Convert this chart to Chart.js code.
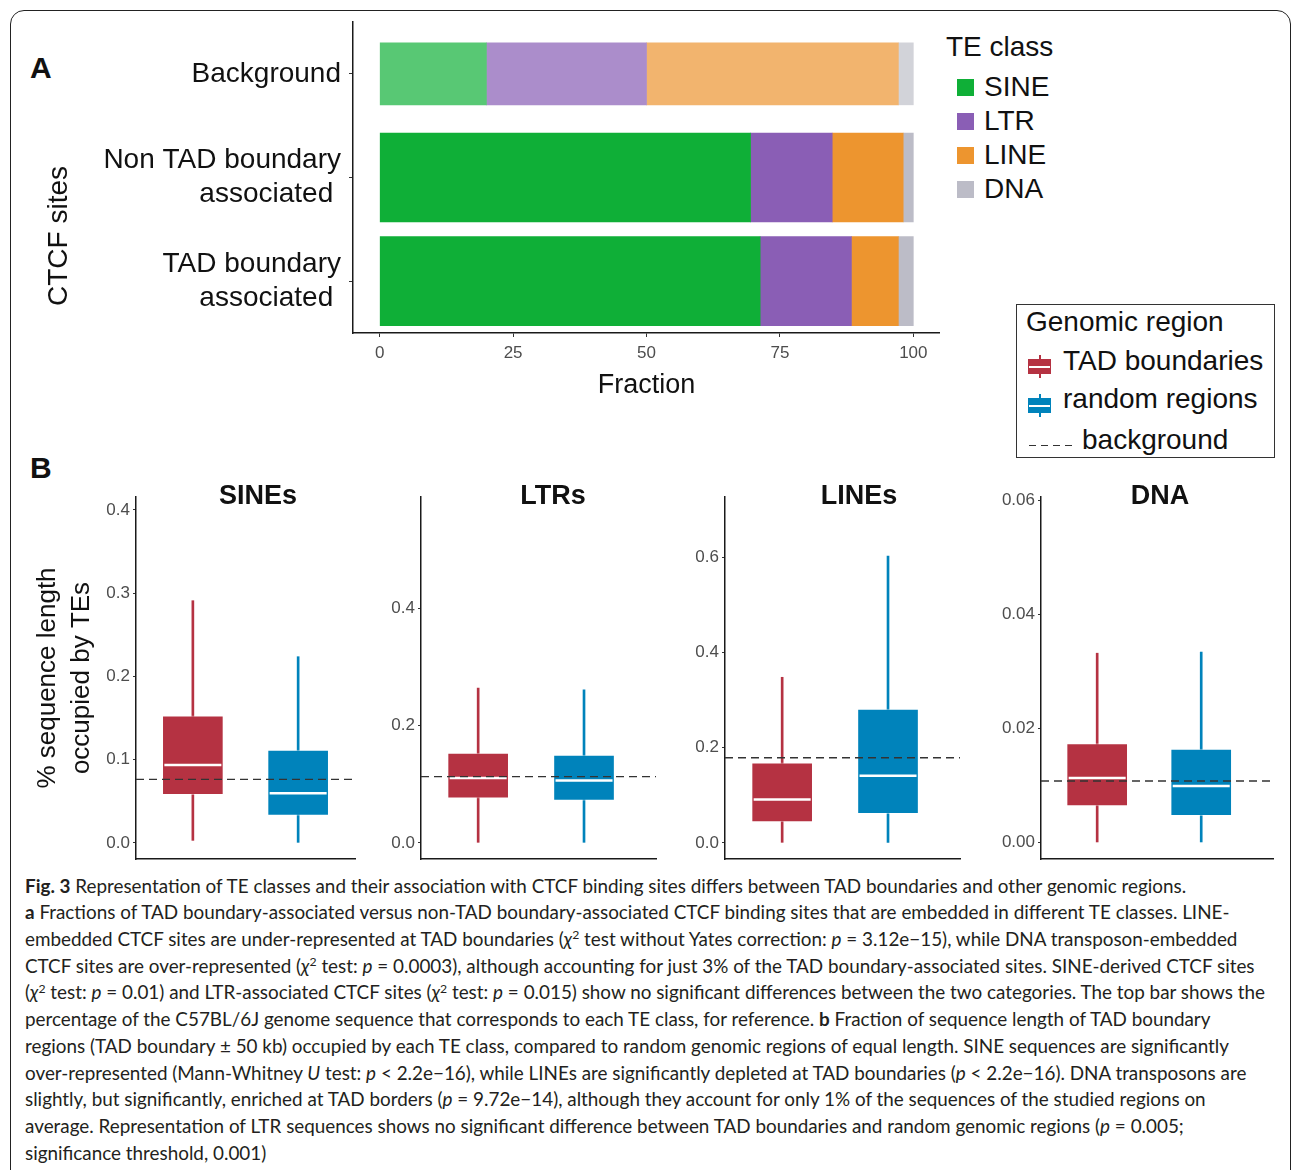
<!DOCTYPE html>
<html>
<head>
<meta charset="utf-8">
<script src="https://cdn.jsdelivr.net/npm/chart.js"></script>
<style>
  body { margin: 0; width: 1292px; height: 1170px; overflow: hidden; position: relative; background: #fff;
         font-family: "Liberation Sans", Arial, Helvetica, sans-serif; color: #111; }
  .abs { position: absolute; }
  #frame { left: 10px; top: 10px; width: 1281px; height: 1250px; border: 1.5px solid #222; border-radius: 14px; box-sizing: border-box; }
  .letter { font-weight: bold; font-size: 30px; line-height: 30px; color: #111; }
  .facetTitle { font-weight: bold; font-size: 27px; line-height: 27px; transform: translate(-50%, -50%); white-space: nowrap; }
  #ctcfTitle { left: 58px; top: 236px; font-size: 28px; line-height: 28px; white-space: nowrap; transform: translate(-50%, -50%) rotate(-90deg); }
  .teTitle { font-size: 28px; line-height: 28px; white-space: nowrap; }
  .teSwatch { width: 17px; height: 17px; }
  #regionLegend { left: 1016px; top: 304px; width: 259px; height: 154px; border: 1px solid #333; box-sizing: border-box; background: #fff; }
  #regionLegend .txt { position: absolute; font-size: 28px; line-height: 28px; white-space: nowrap; }
  .ico { position: absolute; width: 23px; height: 23px; }
  .ico .wh { position: absolute; left: 10.5px; width: 2px; top: 0; bottom: 0; }
  .ico .bx { position: absolute; left: 0; right: 0; top: 4px; height: 15px; }
  .ico .md { position: absolute; left: 1px; right: 1px; top: 10.5px; height: 2px; background: #fff; }
  .dash { position: absolute; height: 1.3px; background: repeating-linear-gradient(90deg, #333 0 7px, transparent 7px 12px); }
  #caption { left: 25px; top: 872.6px; font-family: Lato, "Open Sans", sans-serif; font-size: 18.5px; line-height: 26.7px;
             color: #231f20; transform-origin: 0 0; }
  #caption .ln { white-space: nowrap; }
  #caption .ln span { display: inline-block; }
  .sup { font-size: 0.65em; vertical-align: 0.55em; line-height: 0; }
</style>
</head>
<body>
<div id="frame" class="abs"></div>
<div class="abs letter" style="left:30px;top:53px">A</div>
<div class="abs letter" style="left:30px;top:453px">B</div>

<canvas id="chartA" class="abs" width="940" height="420" style="left:0;top:0"></canvas>
<div id="ctcfTitle" class="abs">CTCF sites</div>
<div class="abs teTitle" style="left:946px;top:33px">TE class</div>
<div id="teLegend"></div>

<div id="regionLegend" class="abs">
  <div class="txt" style="left:9px;top:3px">Genomic region</div>
  <div class="dash" style="left:12px;top:140px;width:46px"></div>
  <div class="txt" style="left:65px;top:121.3px">background</div>
</div>

<div id="facets"></div>

<div id="caption" class="abs">
  <div class="ln"><span><b>Fig. 3</b> Representation of TE classes and their association with CTCF binding sites differs between TAD boundaries and other genomic regions.</span></div>
  <div class="ln"><span><b>a</b> Fractions of TAD boundary-associated versus non-TAD boundary-associated CTCF binding sites that are embedded in different TE classes. LINE-</span></div>
  <div class="ln"><span>embedded CTCF sites are under-represented at TAD boundaries (<i>χ</i><span class="sup">2</span> test without Yates correction: <i>p</i> = 3.12e−15), while DNA transposon-embedded</span></div>
  <div class="ln"><span>CTCF sites are over-represented (<i>χ</i><span class="sup">2</span> test: <i>p</i> = 0.0003), although accounting for just 3% of the TAD boundary-associated sites. SINE-derived CTCF sites</span></div>
  <div class="ln"><span>(<i>χ</i><span class="sup">2</span> test: <i>p</i> = 0.01) and LTR-associated CTCF sites (<i>χ</i><span class="sup">2</span> test: <i>p</i> = 0.015) show no significant differences between the two categories. The top bar shows the</span></div>
  <div class="ln"><span>percentage of the C57BL/6J genome sequence that corresponds to each TE class, for reference. <b>b</b> Fraction of sequence length of TAD boundary</span></div>
  <div class="ln"><span>regions (TAD boundary ± 50 kb) occupied by each TE class, compared to random genomic regions of equal length. SINE sequences are significantly</span></div>
  <div class="ln"><span>over-represented (Mann-Whitney <i>U</i> test: <i>p</i> &lt; 2.2e−16), while LINEs are significantly depleted at TAD boundaries (<i>p</i> &lt; 2.2e−16). DNA transposons are</span></div>
  <div class="ln"><span>slightly, but significantly, enriched at TAD borders (<i>p</i> = 9.72e−14), although they account for only 1% of the sequences of the studied regions on</span></div>
  <div class="ln"><span>average. Representation of LTR sequences shows no significant difference between TAD boundaries and random genomic regions (<i>p</i> = 0.005;</span></div>
  <div class="ln"><span>significance threshold, 0.001)</span></div>
</div>

<script>
// ---- panel A data (percent of CTCF sites / genome per TE class)
const rowLabels = ['Background', ['Non TAD boundary', 'associated '], ['TAD boundary', 'associated ']];
const teClasses = ['SINE', 'LTR', 'LINE', 'DNA'];
const genomeFraction = [20.0, 30.0, 47.2, 2.8];
const nonTadFraction = [69.5, 15.3, 13.3, 1.9];
const tadFraction = [71.3, 17.1, 8.8, 2.8];
const fractionTicks = [0, 25, 50, 75, 100];

// ---- panel B data, one pair [TAD boundaries, random regions] per facet
const facetNames = ['SINEs', 'LTRs', 'LINEs', 'DNA'];
const groupNames = ['TAD boundaries', 'random regions'];
const boxLow = [[0.003, 0], [0, 0], [0, 0], [0, 0]];
const boxQ1 = [[0.058, 0.033], [0.076, 0.0725], [0.044, 0.0615], [0.0064, 0.0047]];
const boxMedian = [[0.0935, 0.0595], [0.1105, 0.1065], [0.091, 0.141], [0.0113, 0.0099]];
const boxQ3 = [[0.1525, 0.1115], [0.153, 0.1498], [0.168, 0.281], [0.01735, 0.01636]];
const boxHigh = [[0.291, 0.2237], [0.264, 0.261], [0.348, 0.603], [0.0332, 0.0334]];
const backgroundLevel = [0.0763, 0.1129, 0.179, 0.01077];
const yTicks = [[0, 0.1, 0.2, 0.3, 0.4], [0, 0.2, 0.4], [0, 0.2, 0.4, 0.6], [0, 0.02, 0.04, 0.06]];
const yTickDecimals = [1, 1, 1, 2];

// colours
const genomeColors = ['#58c874', '#ab8dcb', '#f2b46e', '#d2d3d9'];
const teColors = ['#0faf37', '#8a5eb5', '#ed952f', '#bcbcc7'];
const groupColors = ['#b53242', '#0083bb'];

// where each facet sits on the page
const facetLayout = [
  { left: 0,   width: 359, padLeft: 27, yWidth: 109, xMax: 2.54, yMin: -0.0194, yMax: 0.4156, titleX: 258 },
  { left: 361, width: 299, padLeft: 0,  yWidth: 60,  xMax: 2.68, yMin: -0.0276, yMax: 0.590,  titleX: 553 },
  { left: 665, width: 299, padLeft: 0,  yWidth: 60,  xMax: 2.68, yMin: -0.034,  yMax: 0.727,  titleX: 859 },
  { left: 981, width: 296, padLeft: 0,  yWidth: 60,  xMax: 2.69, yMin: -0.0029, yMax: 0.0606, titleX: 1160 }
];

Chart.defaults.font.family = '"Liberation Sans", Arial, Helvetica, sans-serif';
Chart.defaults.color = '#111';

// ---------- Panel A: stacked horizontal bars
const datasetsA = [];
teClasses.forEach((te, k) => {
  datasetsA.push({ label: te + ' genome', data: [genomeFraction[k], null, null],
    backgroundColor: genomeColors[k], barThickness: 62, borderWidth: 0 });
  datasetsA.push({ label: te, data: [null, nonTadFraction[k], tadFraction[k]],
    backgroundColor: teColors[k], barThickness: 89, borderWidth: 0 });
});

new Chart(document.getElementById('chartA'), {
  type: 'bar',
  data: { labels: rowLabels, datasets: datasetsA },
  options: {
    indexAxis: 'y',
    responsive: false,
    animation: false,
    layout: { padding: { top: 22, left: 0, right: 0, bottom: 14 } },
    plugins: { legend: { display: false }, tooltip: { enabled: false } },
    scales: {
      x: {
        type: 'linear', stacked: true, min: -5, max: 105, bounds: 'data',
        afterBuildTicks: s => { s.ticks = fractionTicks.map(v => ({ value: v })); },
        afterFit: s => { s.height = 73; },
        grid: { display: true, drawOnChartArea: false, tickLength: 4, color: '#333' },
        border: { display: true, color: '#1a1a1a', width: 1.5 },
        ticks: { color: '#4d4d4d', font: { size: 17 }, padding: 6, maxRotation: 0 },
        title: { display: true, text: 'Fraction', color: '#111', font: { size: 27 }, padding: { top: 4, bottom: 4 } }
      },
      y: {
        stacked: true,
        afterFit: s => { s.width = 353; s.paddingTop = 0; s.paddingBottom = 0; },
        grid: { display: true, drawOnChartArea: false, offset: false, tickLength: 4, color: '#333' },
        border: { display: true, color: '#1a1a1a', width: 1.5 },
        ticks: { color: '#111', font: { size: 28 }, padding: 8 }
      }
    }
  }
});

// TE class legend
const teLegend = document.getElementById('teLegend');
const teCenters = [87, 121, 155, 189];
teClasses.forEach((te, k) => {
  const sw = document.createElement('div');
  sw.className = 'abs teSwatch';
  sw.style.left = '957px';
  sw.style.top = (teCenters[k] - 8.5) + 'px';
  sw.style.background = teColors[k];
  teLegend.appendChild(sw);
  const tx = document.createElement('div');
  tx.className = 'abs teTitle';
  tx.style.left = '984px';
  tx.style.top = (teCenters[k] - 14) + 'px';
  tx.textContent = te;
  teLegend.appendChild(tx);
});

// Genomic region legend (box-plot keys)
const regionLegend = document.getElementById('regionLegend');
groupNames.forEach((g, i) => {
  const top = i === 0 ? 50 : 89;
  const ico = document.createElement('div');
  ico.className = 'ico';
  ico.style.left = '11px';
  ico.style.top = top + 'px';
  ico.innerHTML = '<div class="wh" style="background:' + groupColors[i] + '"></div>' +
                  '<div class="bx" style="background:' + groupColors[i] + '"></div><div class="md"></div>';
  regionLegend.appendChild(ico);
  const tx = document.createElement('div');
  tx.className = 'txt';
  tx.style.left = '46px';
  tx.style.top = (i === 0 ? 42.3 : 80.3) + 'px';
  tx.textContent = g;
  regionLegend.appendChild(tx);
});

// ---------- Panel B: box plots, one chart per TE class
function boxMarks(f) {
  return {
    id: 'boxMarks' + f,
    afterDatasetsDraw(chart) {
      const { ctx, chartArea, scales: { y } } = chart;
      const boxes = chart.getDatasetMeta(0).data;
      ctx.save();
      ctx.strokeStyle = '#fff';
      ctx.lineWidth = 2.5;
      boxMedian[f].forEach((m, i) => {
        const el = boxes[i];
        const py = y.getPixelForValue(m);
        ctx.beginPath();
        ctx.moveTo(el.x - el.width / 2 + 2, py);
        ctx.lineTo(el.x + el.width / 2 - 2, py);
        ctx.stroke();
      });
      const by = y.getPixelForValue(backgroundLevel[f]);
      ctx.strokeStyle = '#333';
      ctx.lineWidth = 1.4;
      ctx.setLineDash([8, 5]);
      ctx.beginPath();
      ctx.moveTo(chartArea.left, by);
      ctx.lineTo(chartArea.right, by);
      ctx.stroke();
      ctx.restore();
    }
  };
}

const facetsDiv = document.getElementById('facets');
facetNames.forEach((name, f) => {
  const lay = facetLayout[f];
  const cv = document.createElement('canvas');
  cv.className = 'abs';
  cv.width = lay.width;
  cv.height = 393;
  cv.style.left = lay.left + 'px';
  cv.style.top = '480px';
  facetsDiv.appendChild(cv);

  const ttl = document.createElement('div');
  ttl.className = 'abs facetTitle';
  ttl.style.left = lay.titleX + 'px';
  ttl.style.top = '495px';
  ttl.textContent = name;
  facetsDiv.appendChild(ttl);

  new Chart(cv, {
    type: 'bar',
    data: {
      datasets: [
        {
          label: 'box',
          data: groupNames.map((g, i) => ({ x: i + 1, y: [boxQ1[f][i], boxQ3[f][i]] })),
          backgroundColor: groupColors, borderColor: 'rgba(255,255,255,0.45)', borderWidth: 1,
          borderSkipped: false, barThickness: 61, grouped: false
        },
        {
          label: 'whisker',
          data: groupNames.map((g, i) => ({ x: i + 1, y: [boxLow[f][i], boxHigh[f][i]] })),
          backgroundColor: groupColors, borderWidth: 0, barThickness: 2, grouped: false
        }
      ]
    },
    options: {
      responsive: false,
      animation: false,
      layout: { padding: { top: 17, bottom: 14, left: lay.padLeft, right: 4 } },
      plugins: { legend: { display: false }, tooltip: { enabled: false } },
      scales: {
        x: {
          type: 'linear', min: 0.46, max: lay.xMax, bounds: 'data', offset: false,
          afterFit: s => { s.height = 0; },
          ticks: { display: false },
          grid: { display: false },
          border: { display: true, color: '#1a1a1a', width: 1.5 }
        },
        y: {
          min: lay.yMin, max: lay.yMax, bounds: 'data',
          afterBuildTicks: s => { s.ticks = yTicks[f].map(v => ({ value: v })); },
          afterFit: s => { s.width = lay.yWidth; },
          ticks: { color: '#4d4d4d', font: { size: 17 }, padding: 3,
                   callback: v => Number(v).toFixed(yTickDecimals[f]) },
          grid: { display: true, drawOnChartArea: false, tickLength: 3, color: '#333' },
          border: { display: true, color: '#1a1a1a', width: 1.5 },
          title: f === 0
            ? { display: true, text: ['% sequence length', 'occupied by TEs'], color: '#111',
                font: { size: 26, lineHeight: 1.3 }, padding: { top: 4, bottom: 4 } }
            : { display: false }
        }
      }
    },
    plugins: [boxMarks(f)]
  });
});

// fit the caption so its longest line spans the same width as in the figure
const cap = document.getElementById('caption');
const widest = Math.max(...[...cap.querySelectorAll('.ln > span')].map(s => s.getBoundingClientRect().width));
cap.style.transform = 'scaleX(' + (1240 / widest) + ')';
</script>
</body>
</html>
